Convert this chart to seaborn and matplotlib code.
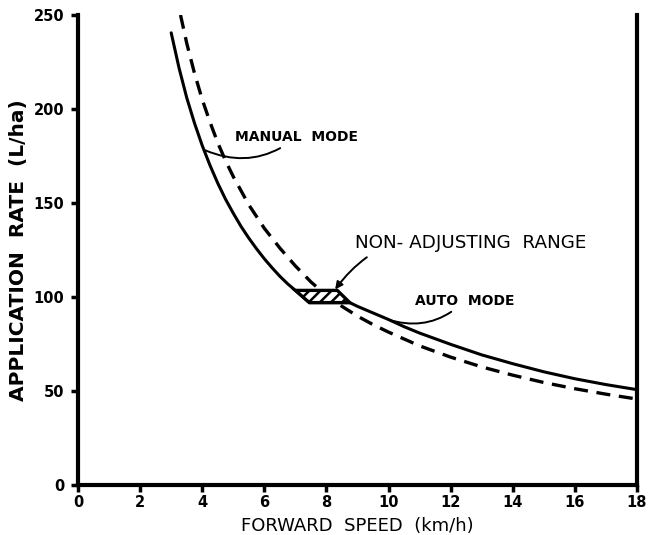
import numpy as np
import pandas as pd
import seaborn as sns
import matplotlib.pyplot as plt

# ---------- data ----------
manual_speed = [3.3, 3.5, 3.75, 4.0, 4.25, 4.5, 4.75, 5.0, 5.5, 6.0, 6.5, 7.0, 7.5, 8.0, 8.5,
                9.0, 9.5, 10, 11, 12, 13, 14, 15, 16, 17, 18]
manual_rate = [250, 235, 219, 205, 193, 182, 172.5, 164, 149, 136.5, 126, 116.5, 108, 100.8, 95,
               89.8, 85.3, 81.3, 74, 68, 62.8, 58.4, 54.5, 51.2, 48.3, 45.7]

auto_speed = [3.0, 3.25, 3.5, 3.75, 4.0, 4.25, 4.5, 4.75, 5.0, 5.25, 5.5, 5.75, 6.0, 6.25, 6.5,
              6.75, 7.0, 7.45, 8.75, 9.0, 9.5, 10, 10.5, 11, 12, 13, 14, 15, 16, 17, 18]
auto_rate = [240.5, 222, 206, 192.5, 180.5, 170, 160.5, 152, 144.5, 137.5, 131.3, 125.6, 120.3,
             115.5, 111, 107, 103.5, 97, 97, 95, 91.5, 88, 84.2, 80.8, 74.8, 69.2, 64.5, 60.2,
             56.5, 53.4, 50.7]

# non-adjusting range (hatched band)
band_speed = [7.0, 8.35, 8.75, 7.45]
band_rate = [103.5, 103.5, 97, 97]

x_ticks = [0, 2, 4, 6, 8, 10, 12, 14, 16, 18]
y_ticks = [0, 50, 100, 150, 200, 250]

# ---------- style ----------
sns.set_style("ticks", {"axes.edgecolor": "black", "text.color": "black",
                        "axes.labelcolor": "black", "xtick.color": "black",
                        "ytick.color": "black"})
plt.rcParams["font.family"] = ["DejaVu Sans"]
plt.rcParams["hatch.linewidth"] = 1.8

df = pd.concat([
    pd.DataFrame({"speed": manual_speed, "rate": manual_rate, "mode": "Manual"}),
    pd.DataFrame({"speed": auto_speed, "rate": auto_rate, "mode": "Auto"}),
])

fig = plt.figure(figsize=(6.53, 5.35), dpi=100)
ax = fig.add_axes([0.1195, 0.0935, 0.856, 0.8785])

sns.lineplot(data=df[df["mode"] == "Auto"], x="speed", y="rate", sort=False,
             estimator=None, color="black", linewidth=2.2, ax=ax)
sns.lineplot(data=df[df["mode"] == "Manual"], x="speed", y="rate", sort=False,
             estimator=None, color="black", linewidth=2.4, ax=ax)
ax.lines[-1].set_dashes((4.2, 2.6))
for ln in ax.lines:
    ln.set_solid_joinstyle("round")

ax.fill(band_speed, band_rate, facecolor="white", edgecolor="black",
        hatch="///", linewidth=2.4, zorder=3)

ax.set_xlim(0, 18)
ax.set_ylim(0, 250)
ax.set_xticks(x_ticks)
ax.set_yticks(y_ticks)
ax.tick_params(axis="both", labelsize=10.5, length=5, width=2.5, direction="out",
               colors="black")
ax.tick_params(axis="y", pad=5)
ax.tick_params(axis="x", pad=2)
for lab in ax.get_xticklabels() + ax.get_yticklabels():
    lab.set_fontweight("bold")

for side in ["left", "bottom", "right"]:
    ax.spines[side].set_linewidth(3)
    ax.spines[side].set_color("black")
ax.spines["top"].set_visible(False)

ax.set_xlabel("FORWARD  SPEED  (km/h)", fontsize=13, labelpad=5, color="black")
ax.set_ylabel("APPLICATION  RATE  (L/ha)", fontsize=14.5, fontweight="bold", labelpad=4,
              color="black")

# ---------- callouts ----------
ax.annotate("MANUAL  MODE", xy=(4.1, 178), xytext=(5.05, 185), fontsize=10, fontweight="bold",
            va="center", ha="left", color="black",
            arrowprops=dict(arrowstyle="-", color="black", lw=1.4,
                            connectionstyle="arc3,rad=-0.3", shrinkA=1, shrinkB=0))
ax.annotate("NON- ADJUSTING  RANGE", xy=(8.28, 104), xytext=(8.92, 128.5), fontsize=13.2,
            va="center", ha="left", color="black",
            arrowprops=dict(arrowstyle="-|>", color="black", lw=1.4, mutation_scale=11,
                            connectionstyle="arc3,rad=0.35", shrinkA=2, shrinkB=0))
ax.annotate("AUTO  MODE", xy=(9.98, 88), xytext=(10.85, 98), fontsize=10, fontweight="bold",
            va="center", ha="left", color="black",
            arrowprops=dict(arrowstyle="-", color="black", lw=1.4,
                            connectionstyle="arc3,rad=-0.3", shrinkA=1, shrinkB=0))

fig.savefig("out.png", dpi=100)
